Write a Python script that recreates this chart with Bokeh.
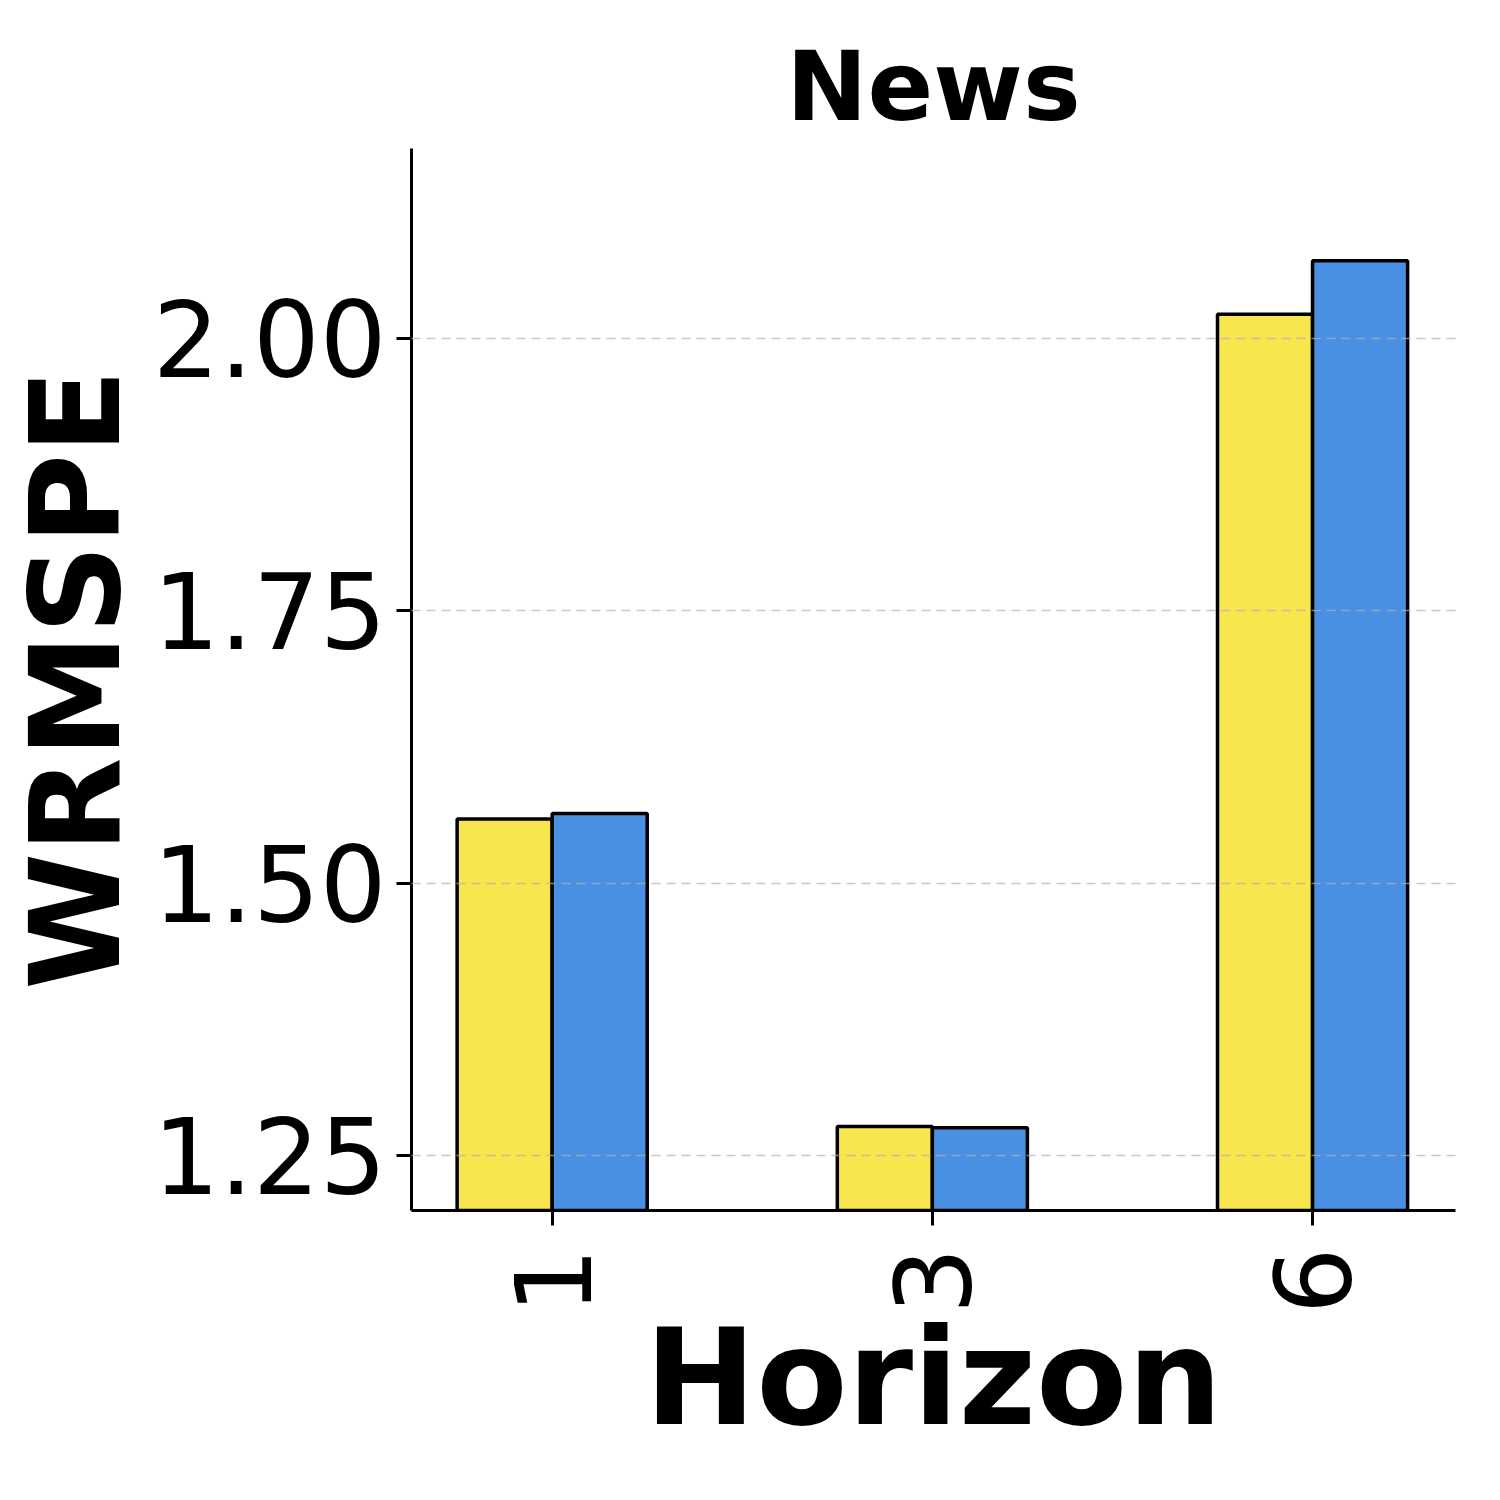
import math
from bokeh.plotting import figure
from bokeh.models import Range1d, FixedTicker, ColumnDataSource, NumeralTickFormatter
from bokeh.embed import file_html
from bokeh.resources import INLINE

# ---- data ----
horizons = ["1", "3", "6"]
series_a = [1.559, 1.277, 2.022]   # yellow
series_b = [1.564, 1.276, 2.071]   # blue
y_ticks = [1.25, 1.50, 1.75, 2.00]
title_text = "News"
x_label = "Horizon"
y_label = "WRMSPE"

color_a = "#F9E54E"
color_b = "#4A90E2"
bar_w = 0.25
FONT = "DejaVu Sans"

# ---- layout ----
W, H = 1484, 1484
FL, FR, FT, FB = 395, 1455, 148, 1210   # frame edges (canvas px, minimum for left)
X0, X1 = -0.37, 2.376
Y0, Y1 = 1.2, 2.174

idx = list(range(len(horizons)))
src = ColumnDataSource(dict(
    xa=[i - bar_w / 2 for i in idx],
    xb=[i + bar_w / 2 for i in idx],
    a=series_a, b=series_b,
))

p = figure(width=W, height=H,
           x_range=Range1d(X0, X1), y_range=Range1d(Y0, Y1),
           output_backend="svg", toolbar_location=None,
           min_border_left=FL, min_border_right=W - FR,
           min_border_top=FT, min_border_bottom=H - FB)

p.vbar(x="xa", top="a", bottom=0, width=bar_w, source=src,
       fill_color=color_a, line_color="black", line_width=3.5)
p.vbar(x="xb", top="b", bottom=0, width=bar_w, source=src,
       fill_color=color_b, line_color="black", line_width=3.5)

p.outline_line_color = None
p.background_fill_color = "white"
p.border_fill_color = "white"

# title
p.title.text = title_text
p.title.text_font = FONT
p.title.text_font_size = "97px"
p.title.text_font_style = "bold"
p.title.text_color = "black"
p.title.align = "center"
p.title.standoff = 11

# grid
p.xgrid.visible = False
p.ygrid.ticker = FixedTicker(ticks=y_ticks)
p.ygrid.grid_line_color = "#b0b0b0"
p.ygrid.grid_line_alpha = 0.7
p.ygrid.grid_line_width = 1.6
p.ygrid.grid_line_dash = "9 6"
p.ygrid.level = "overlay"

# axes
for ax in (p.xaxis[0], p.yaxis[0]):
    ax.axis_line_color = "black"
    ax.axis_line_width = 3
    ax.major_tick_line_color = "black"
    ax.major_tick_line_width = 3
    ax.major_tick_out = 15
    ax.major_tick_in = 0
    ax.minor_tick_line_color = None
    ax.major_label_text_font = FONT
    ax.major_label_text_font_size = "105px"
    ax.major_label_text_color = "black"
    ax.axis_label_text_font = FONT
    ax.axis_label_text_font_style = "bold"
    ax.axis_label_text_color = "black"

p.xaxis.ticker = FixedTicker(ticks=idx)
p.xaxis.major_label_overrides = {i: h for i, h in zip(idx, horizons)}
p.xaxis.major_label_orientation = math.pi / 2
p.xaxis.major_label_standoff = 22
p.xaxis.axis_label = x_label
p.xaxis.axis_label_text_font_size = "133px"
p.xaxis.axis_label_standoff = -16

p.yaxis.ticker = FixedTicker(ticks=y_ticks)
p.yaxis.formatter = NumeralTickFormatter(format="0.00")
p.yaxis.major_label_standoff = 10
p.yaxis.axis_label = y_label
p.yaxis.axis_label_text_font_size = "124px"
p.yaxis.axis_label_standoff = 2

open("out.html", "w").write(file_html(p, INLINE))
